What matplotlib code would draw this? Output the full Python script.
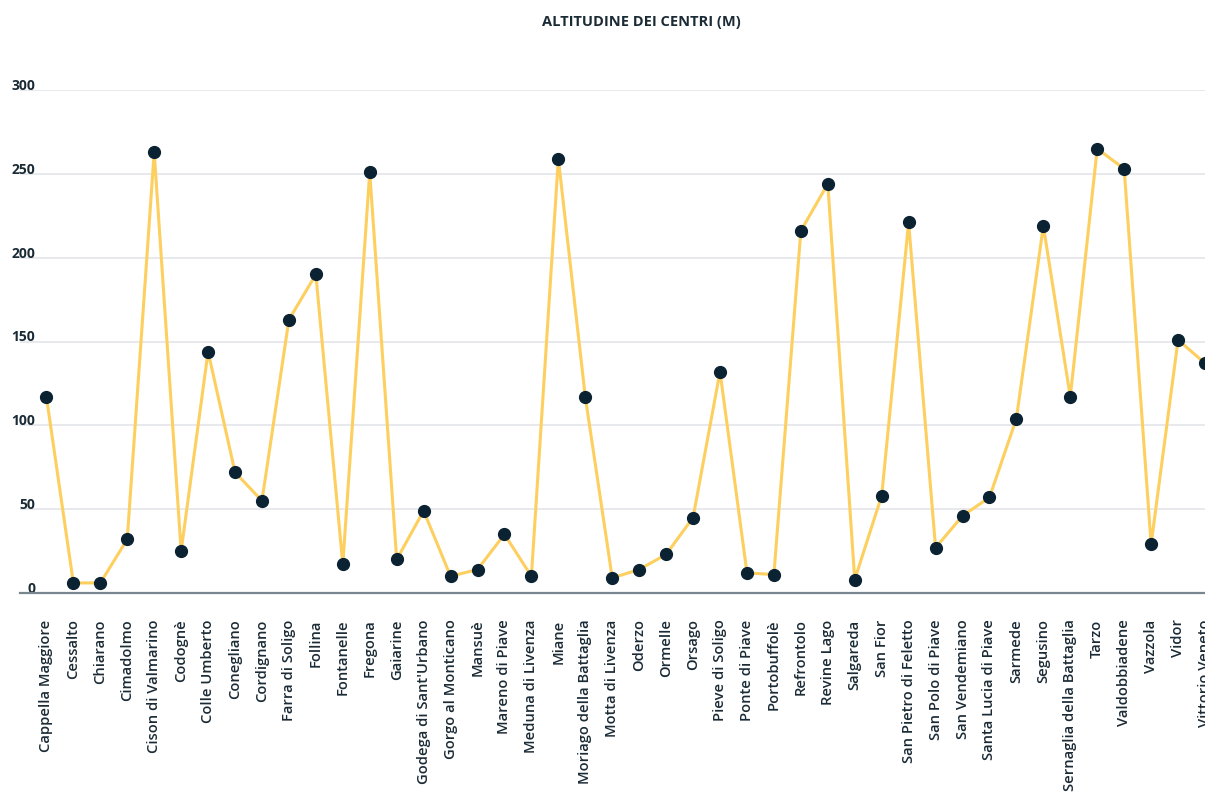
import matplotlib
matplotlib.use("Agg")
import matplotlib.pyplot as plt
from matplotlib.transforms import ScaledTranslation

# comuni e altitudine (m)
comuni = ["Cappella Maggiore", "Cessalto", "Chiarano", "Cimadolmo", "Cison di Valmarino",
          "Codognè", "Colle Umberto", "Conegliano", "Cordignano", "Farra di Soligo",
          "Follina", "Fontanelle", "Fregona", "Gaiarine", "Godega di Sant'Urbano",
          "Gorgo al Monticano", "Mansuè", "Mareno di Piave", "Meduna di Livenza", "Miane",
          "Moriago della Battaglia", "Motta di Livenza", "Oderzo", "Ormelle", "Orsago",
          "Pieve di Soligo", "Ponte di Piave", "Portobuffolè", "Refrontolo", "Revine Lago",
          "Salgareda", "San Fior", "San Pietro di Feletto", "San Polo di Piave", "San Vendemiano",
          "Santa Lucia di Piave", "Sarmede", "Segusino", "Sernaglia della Battaglia", "Tarzo",
          "Valdobbiadene", "Vazzola", "Vidor", "Vittorio Veneto"]
altitudine = [117, 6, 6, 32, 263, 25, 144, 72, 55, 163,
              190, 17, 251, 20, 49, 10, 14, 35, 10, 259,
              117, 9, 14, 23, 45, 132, 12, 11, 216, 244,
              8, 58, 221, 27, 46, 57, 104, 219, 117, 265,
              253, 29, 151, 137]
yticks = [0, 50, 100, 150, 200, 250, 300]

plt.rcParams['font.family'] = ['Open Sans', 'DejaVu Sans']
text_col = "#1b2b36"

fig = plt.figure(figsize=(12.05, 7.96), dpi=100)
ax = fig.add_axes([20/1205, 1 - 593/796, 1 - 20/1205, (593 - 90)/796])

x = list(range(len(comuni)))
ax.plot(x, altitudine, color="#fdcf5f", lw=2.2, zorder=2, clip_on=False)
ax.plot(x, altitudine, 'o', color="#0a2231", ms=8.5, zorder=3, clip_on=False)

ax.set_xlim(-0.98, len(comuni) - 1)
ax.set_ylim(0, 300)
ax.set_yticks(yticks)
ax.set_xticks(x)
ax.set_xticklabels(comuni, rotation=90, fontsize=10.6, fontweight='semibold', color=text_col)
ax.grid(axis='y', color="#e4e5ea", lw=1.2, zorder=0)
ax.set_axisbelow(True)
for s in ['top', 'right', 'left']:
    ax.spines[s].set_visible(False)
ax.spines['bottom'].set_color("#77868f")
ax.spines['bottom'].set_linewidth(1.6)
ax.tick_params(axis='x', length=0, pad=19)
ax.tick_params(axis='y', length=0, pad=-11, labelsize=10)
for lab in ax.get_yticklabels():
    lab.set_fontweight('bold')
    lab.set_color(text_col)
    lab.set_transform(lab.get_transform() + ScaledTranslation(0, 4/72, fig.dpi_scale_trans))

fig.text(641/1205, 1 - 22/796, "ALTITUDINE DEI CENTRI (M)", ha='center', va='center',
         fontsize=10.5, fontweight='bold', color=text_col)

fig.savefig("out.png", dpi=100)
